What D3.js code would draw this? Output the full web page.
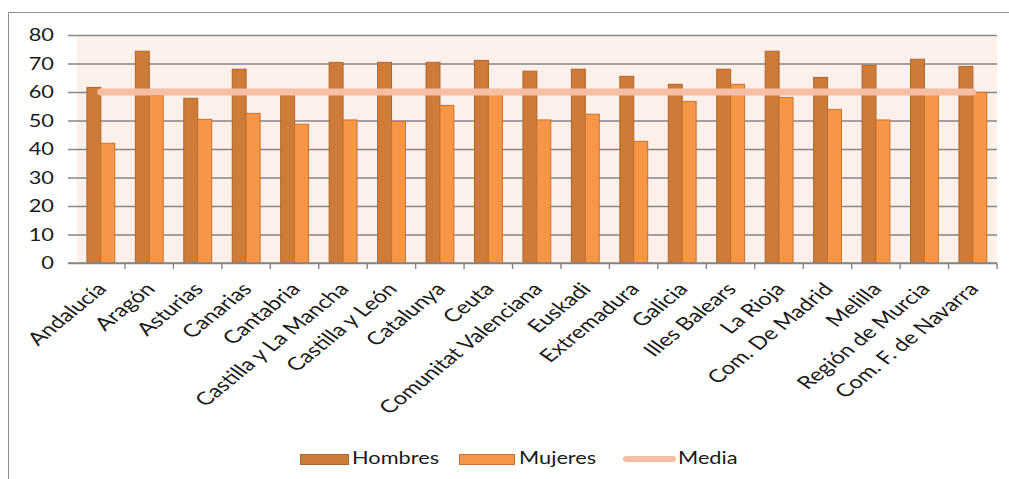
<!DOCTYPE html>
<html lang="es">
<head>
<meta charset="utf-8">
<title>Hombres / Mujeres por comunidad</title>
<script src="https://d3js.org/d3.v7.min.js"></script>
<style>
  body { margin: 0; background: #fff; }
  text { font-family: Lato, "Open Sans", sans-serif; fill: #1a1a1a; }
</style>
</head>
<body>
<svg id="chart" width="1009" height="479"></svg>
<script>
// data
var regiones = ["Andalucía", "Aragón", "Asturias", "Canarias", "Cantabria",
  "Castilla y La Mancha", "Castilla y León", "Catalunya", "Ceuta",
  "Comunitat Valenciana", "Euskadi", "Extremadura", "Galicia", "Illes Balears",
  "La Rioja", "Com. De Madrid", "Melilla", "Región de Murcia", "Com. F. de Navarra"];
var hombres = [61.6, 74.3, 57.8, 68.0, 60.0, 70.4, 70.4, 70.4, 71.1, 67.3,
  68.0, 65.5, 62.7, 68.0, 74.3, 65.1, 69.4, 71.5, 69.0];
var mujeres = [42.0, 58.8, 50.4, 52.5, 48.7, 50.2, 49.7, 55.3, 60.0, 50.2,
  52.2, 42.7, 56.7, 62.7, 58.1, 53.9, 50.2, 60.5, 59.9];
var media = [60, 60, 60, 60, 60, 60, 60, 60, 60, 60, 60, 60, 60, 60, 60, 60, 60, 60, 60];
var yTicks = [0, 10, 20, 30, 40, 50, 60, 70, 80];
var series = ["Hombres", "Mujeres"];

var colH = "#cd7b38", colHs = "#b0652b";
var colM = "#f79646", colMs = "#c8722f";
var colMedia = "#f6bea5";
var stretch = "scale(1.32,1)";   // the source image is stretched sideways

var svg = d3.select("#chart");

var plotL = 76.5, plotR = 997, plotT = 35, plotB = 263;

var x0 = d3.scaleBand().domain(regiones).range([plotL, plotR]).padding(0);
var bw = x0.bandwidth();
var x1 = d3.scaleBand().domain(series).range([bw * 0.215, bw * 0.79]).padding(0);
var y = d3.scaleLinear().domain([0, 80]).range([plotB, plotT]);

// frame of the chart area
svg.append("path")
  .attr("d", "M8.5,479 V12.5 H1009")
  .attr("fill", "none")
  .attr("stroke", "#8c8c8c")
  .attr("stroke-width", 1);

// plot background
svg.append("rect")
  .attr("x", plotL).attr("y", plotT)
  .attr("width", plotR - plotL).attr("height", plotB - plotT)
  .attr("fill", "#fdefea");

// gridlines + y labels
var yAxis = svg.append("g")
  .attr("transform", "translate(" + plotR + ",0)")
  .call(d3.axisLeft(y).tickValues(yTicks).tickSize(plotR - 68).tickFormat(""));
yAxis.select(".domain").remove();
yAxis.selectAll("line").attr("stroke", "#868686").attr("stroke-width", 1.4);

svg.append("g").selectAll("text")
  .data(yTicks)
  .enter().append("text")
  .attr("transform", function(d) { return "translate(54," + (y(d) + 6) + ") " + stretch; })
  .attr("text-anchor", "end")
  .attr("font-size", 16.5)
  .text(function(d) { return d; });

// bars
var groups = svg.append("g").selectAll("g")
  .data(regiones)
  .enter().append("g")
  .attr("transform", function(d) { return "translate(" + x0(d) + ",0)"; });

groups.selectAll("rect")
  .data(function(d, i) { return [{k: "Hombres", v: hombres[i]}, {k: "Mujeres", v: mujeres[i]}]; })
  .enter().append("rect")
  .attr("x", function(d) { return x1(d.k); })
  .attr("y", function(d) { return y(d.v); })
  .attr("width", x1.bandwidth())
  .attr("height", function(d) { return plotB - y(d.v); })
  .attr("fill", function(d) { return d.k == "Hombres" ? colH : colM; })
  .attr("stroke", function(d) { return d.k == "Hombres" ? colHs : colMs; })
  .attr("stroke-width", 1);

// x axis
var xAxis = svg.append("g")
  .attr("transform", "translate(0," + plotB + ")");
xAxis.append("line")
  .attr("x1", 68).attr("x2", plotR)
  .attr("stroke", "#868686").attr("stroke-width", 1.4);
xAxis.selectAll(".tk")
  .data(regiones)
  .enter().append("line")
  .attr("class", "tk")
  .attr("x1", function(d) { return x0(d) + bw; })
  .attr("x2", function(d) { return x0(d) + bw; })
  .attr("y1", 0).attr("y2", 6)
  .attr("stroke", "#868686").attr("stroke-width", 1.4);

svg.append("g").selectAll("text")
  .data(regiones)
  .enter().append("text")
  .attr("transform", function(d) {
    return "translate(" + (x0(d) + bw / 2 + 7) + "," + (plotB + 27) + ") " + stretch + " rotate(-47)";
  })
  .attr("text-anchor", "end")
  .attr("font-size", 18)
  .text(function(d) { return d; });

// media line
var line = d3.line()
  .x(function(d, i) { return x0(regiones[i]) + bw / 2; })
  .y(function(d) { return y(d); });
svg.append("path")
  .datum(media)
  .attr("d", line)
  .attr("fill", "none")
  .attr("stroke", colMedia)
  .attr("stroke-width", 7)
  .attr("stroke-linecap", "round");

// legend
var lg = svg.append("g");
lg.append("rect").attr("x", 300.5).attr("y", 454.5).attr("width", 48).attr("height", 10)
  .attr("fill", colH).attr("stroke", colHs);
lg.append("text").attr("transform", "translate(352,464) " + stretch)
  .attr("font-size", 16.5).text("Hombres");
lg.append("rect").attr("x", 459.5).attr("y", 454.5).attr("width", 55).attr("height", 10)
  .attr("fill", colM).attr("stroke", colMs);
lg.append("text").attr("transform", "translate(519,464) " + stretch)
  .attr("font-size", 16.5).text("Mujeres");
lg.append("line").attr("x1", 626).attr("x2", 673).attr("y1", 459).attr("y2", 459)
  .attr("stroke", colMedia).attr("stroke-width", 6).attr("stroke-linecap", "round");
lg.append("text").attr("transform", "translate(678,464) " + stretch)
  .attr("font-size", 16.5).text("Media");
</script>
</body>
</html>
